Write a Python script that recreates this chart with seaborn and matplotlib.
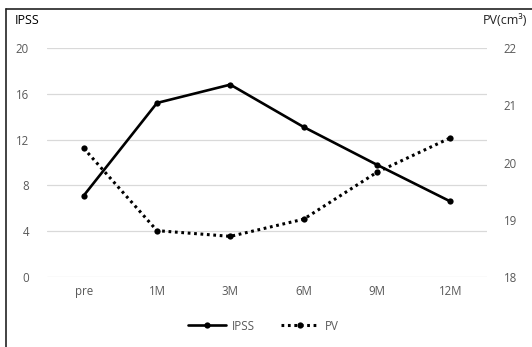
import pandas as pd
import numpy as np
import seaborn as sns
import matplotlib.pyplot as plt
from matplotlib.lines import Line2D

months = ["pre", "1M", "3M", "6M", "9M", "12M"]
ipss = [7.1, 15.2, 16.8, 13.1, 9.8, 6.6]
pv = [20.25, 18.81, 18.71, 19.01, 19.83, 20.43]

sns.set_theme(style="white")
plt.rcParams["font.family"] = ["Open Sans", "DejaVu Sans"]

df = pd.DataFrame({"month": months, "IPSS": ipss, "PV": pv})
df["x"] = np.arange(len(months))

fig = plt.figure(figsize=(5.32, 3.47), dpi=100)
ax = fig.add_axes([0.0883, 0.2017, 0.8271, 0.66])
ax2 = ax.twinx()

sns.lineplot(data=df, x="x", y="IPSS", ax=ax, color="black", lw=1.9,
             marker="o", markersize=4.5, markeredgewidth=0)
sns.lineplot(data=df, x="x", y="PV", ax=ax2, color="black", lw=2.2,
             linestyle=(0, (0.9, 1.2)), marker="o", markersize=4.5, markeredgewidth=0)

grey = "#595959"
ax.set_xlim(-0.5, 5.5)
ax.set_ylim(0, 20)
ax.set_yticks([0, 4, 8, 12, 16, 20])
ax2.set_ylim(18, 22)
ax2.set_yticks([18, 19, 20, 21, 22])
ax.set_xticks(df["x"])
ax.set_xticklabels(months)
ax.grid(axis="y", color="#d9d9d9", lw=0.9)
ax.set_axisbelow(True)
for a in (ax, ax2):
    a.set_xlabel("")
    a.set_ylabel("")
    for s in a.spines.values():
        s.set_visible(False)
    a.tick_params(length=0, labelsize=8.3, labelcolor=grey)
ax.tick_params(axis="y", pad=13)
ax.tick_params(axis="x", pad=6)
ax2.tick_params(axis="y", pad=12)

fig.text(15 / 532, 1 - 20 / 347, "IPSS", fontsize=9, color="black", va="center", ha="left")
fig.text(527 / 532, 1 - 20 / 347, "PV(cm³)", fontsize=9, color="#222222", va="center", ha="right")

handles = [
    Line2D([], [], color="black", lw=1.9, marker="o", markersize=4.5, markeredgewidth=0),
    Line2D([], [], color="black", lw=2.2, linestyle=(0, (0.9, 1.2)), marker="o",
           markersize=4.5, markeredgewidth=0),
]
fig.legend(handles, ["IPSS", "PV"], loc="center", bbox_to_anchor=(0.495, 1 - 326 / 347),
           ncol=2, frameon=False, fontsize=8.3, labelcolor=grey, handlelength=3.3,
           numpoints=1, columnspacing=2.2, handletextpad=0.5)

# chart border (left and top edges visible)
fig.add_artist(Line2D([6 / 532, 6 / 532], [0, 1 - 9 / 347], color="#222222", lw=1.2))
fig.add_artist(Line2D([6 / 532, 1], [1 - 9 / 347, 1 - 9 / 347], color="#222222", lw=1.2))

fig.savefig("out.png", dpi=100)
